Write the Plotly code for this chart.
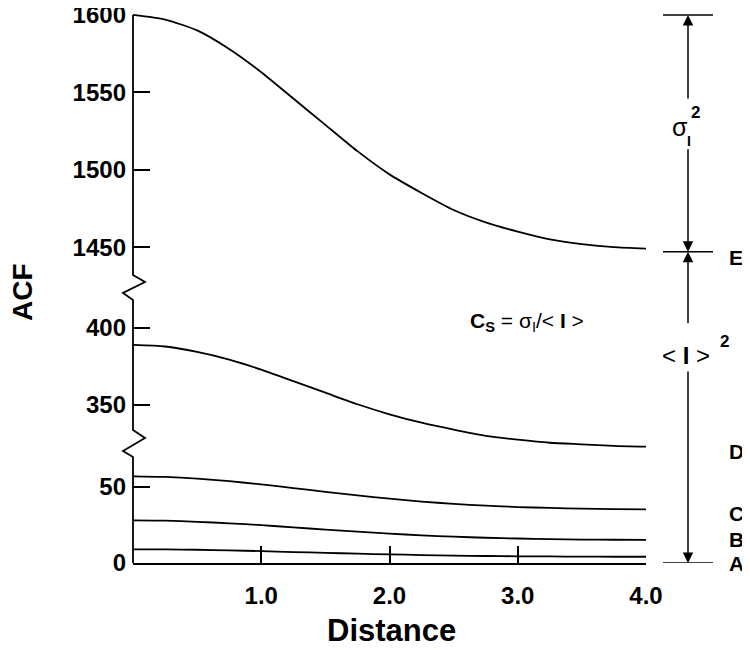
import plotly.graph_objects as go

# distance samples and ACF curves
distance = [0, 0.25, 0.5, 0.75, 1.0, 1.25, 1.5, 1.75, 2.0, 2.25, 2.5, 2.75, 3.0, 3.25, 3.5, 3.75, 4.0]
acf_e = [1600, 1597, 1590, 1578, 1563, 1546, 1529, 1512, 1497, 1485, 1474, 1466, 1460, 1455, 1452, 1450, 1449]
acf_d = [389, 388, 384.5, 379.5, 373, 365.5, 358, 350.5, 344, 338.5, 334, 330, 327.5, 325.5, 324.5, 323.5, 323]
acf_c = [57, 56.6, 55.5, 53.8, 51.7, 49.3, 46.8, 44.4, 42.3, 40.4, 38.9, 37.7, 36.8, 36.2, 35.7, 35.4, 35.3]
acf_b = [28, 27.8, 27.1, 26.1, 24.9, 23.4, 22.0, 20.6, 19.3, 18.2, 17.3, 16.6, 16.1, 15.7, 15.4, 15.3, 15.2]
acf_a = [9, 8.9, 8.7, 8.3, 7.8, 7.2, 6.7, 6.1, 5.7, 5.2, 4.9, 4.6, 4.4, 4.3, 4.2, 4.1, 4.1]

x_ticks = [1, 2, 3, 4]
x_ticktext = ["1.0", "2.0", "3.0", "4.0"]
top_ticks = [1450, 1500, 1550, 1600]
mid_ticks = [350, 400]
low_ticks = [0, 50]
sigma_top = 1600
mean_level = 1447
curve_labels = ["E", "D", "C", "B", "A"]

FONT = "Liberation Sans, Arial, sans-serif"
BODY = 8  # default page margin around the plot div
L, T, W, H = 133, 14, 513, 549  # plot area in window pixels
FIG_W, FIG_H = 750 - BODY, 650 - BODY


def px(xp):
    return (xp - L) / W


def py(yp):
    return (T + H - yp) / H


fig = go.Figure()
line = dict(color="black", width=1.8, shape="spline", smoothing=0.6)
fig.add_trace(go.Scatter(x=distance, y=acf_a, mode="lines", line=line, yaxis="y"))
fig.add_trace(go.Scatter(x=distance, y=acf_b, mode="lines", line=line, yaxis="y"))
fig.add_trace(go.Scatter(x=distance, y=acf_c, mode="lines", line=line, yaxis="y"))
fig.add_trace(go.Scatter(x=distance, y=acf_d, mode="lines", line=line, yaxis="y2"))
fig.add_trace(go.Scatter(x=distance, y=acf_e, mode="lines", line=line, yaxis="y3"))

tickfont = dict(family=FONT, size=24, color="black", weight="bold")
yax = dict(showgrid=False, zeroline=False, showline=False, ticks="inside",
           ticklen=17, tickwidth=1.5, tickcolor="black", tickfont=tickfont,
           ticklabelstandoff=6, ticklabeloverflow="allow", anchor="x",
           fixedrange=True, automargin=False)

# left axis line with two break zigzags
pts = [(133, 15), (133, 275), (145, 282), (123, 293), (133, 300), (133, 430),
       (145, 438), (123, 451), (133, 457), (133, 563)]
path = "M " + " L ".join(f"{px(a):.4f},{py(b):.4f}" for a, b in pts)

shapes = [dict(type="path", path=path, xref="paper", yref="paper",
               line=dict(color="black", width=1.8))]
for yref, val in [("y3", sigma_top), ("y3", mean_level), ("y", 0)]:
    shapes.append(dict(type="line", xref="paper", yref=yref, x0=px(663), x1=px(713),
                       y0=val, y1=val, line=dict(color="black", width=1.5)))

arrow = dict(xref="paper", x=px(688), text="", showarrow=True, arrowhead=2,
             arrowsize=1.4, arrowwidth=1.5, arrowcolor="black", ax=0,
             axref="pixel", ayref="pixel", standoff=0)
annotations = [
    dict(arrow, yref="y3", y=sigma_top, ay=85),
    dict(arrow, yref="y3", y=mean_level, ay=-104),
    dict(arrow, yref="y3", y=mean_level, ay=73),
    dict(arrow, yref="y", y=0, ay=-193),
]


def txt(x, y, text, size, bold=False, **kw):
    annotations.append(dict(xref="paper", yref="paper", x=px(x), y=py(y), text=text,
                            showarrow=False, xanchor="center", yanchor="middle",
                            font=dict(family=FONT, size=size, color="black",
                                      weight="bold" if bold else "normal"), **kw))


txt(680, 127, "σ", 25)
txt(695, 113, "2", 17, True)
txt(689, 141, "I", 14, True)
txt(686, 355, "&lt; <b>I</b> &gt;", 24)
txt(724, 342, "2", 17, True)
txt(527, 322, "<b>C<sub>S</sub></b> = σ<sub>I</sub>/&lt; <b>I</b> &gt;", 21)

for lab, ylab in zip(curve_labels, [257, 451, 513, 539, 563]):
    txt(736, ylab, lab, 21, True)

txt(391, 630, "Distance", 31, True)
txt(22, 292, "ACF", 28, True, textangle=-90)

fig.update_layout(
    width=FIG_W, height=FIG_H,
    margin=dict(l=L - BODY, r=FIG_W - (L - BODY) - W, t=T - BODY, b=FIG_H - (T - BODY) - H),
    plot_bgcolor="white", paper_bgcolor="white",
    showlegend=False,
    xaxis=dict(range=[0, 4], showgrid=False, zeroline=False, showline=True,
               linecolor="black", linewidth=1.8, ticks="inside", ticklen=17,
               tickwidth=1.5, tickcolor="black", tickvals=x_ticks, ticktext=x_ticktext,
               tickfont=tickfont, ticklabelstandoff=10, anchor="y", fixedrange=True,
               automargin=False),
    yaxis=dict(yax, domain=[0, py(457)], range=[0, 69.7], tickvals=low_ticks),
    yaxis2=dict(yax, domain=[py(452), py(300)], range=[319.5, 418.2], tickvals=mid_ticks),
    yaxis3=dict(yax, domain=[py(275), 1], range=[1432, 1600.6], tickvals=top_ticks),
    shapes=shapes,
    annotations=annotations,
)

fig.write_html("out.html")
